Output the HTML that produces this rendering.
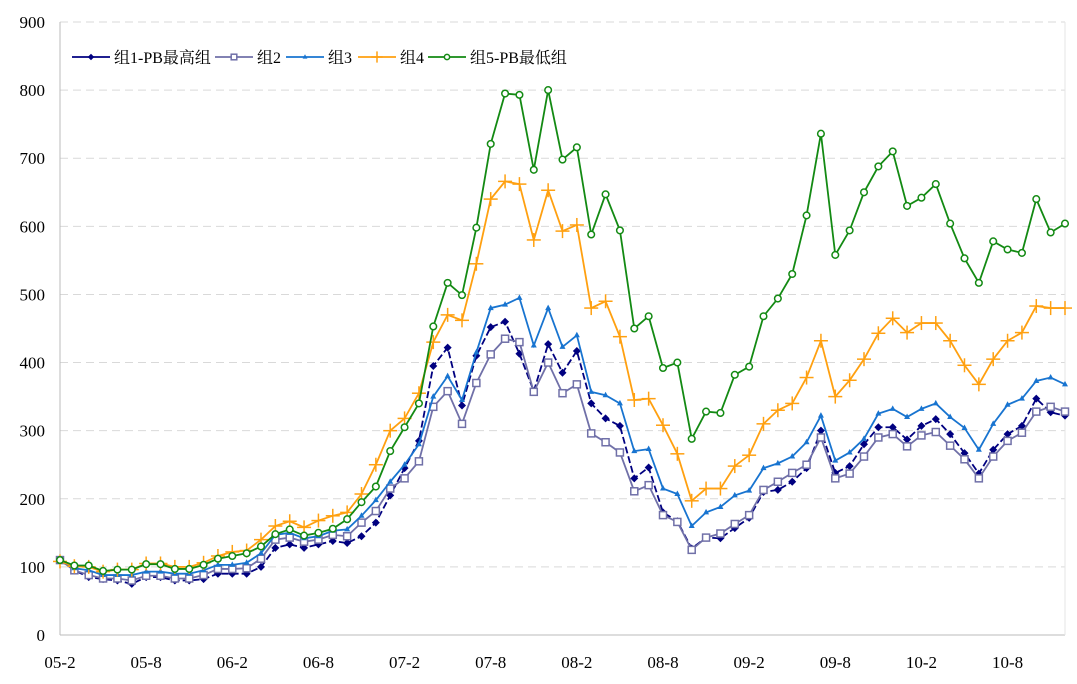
<!DOCTYPE html>
<html><head><meta charset="utf-8"><style>
body{margin:0;background:#fff}
svg{display:block;font-family:"Liberation Serif","Noto Serif CJK SC",serif}
</style></head><body>
<svg id="c" width="1077" height="684"></svg>
<script>
const xLabels=["05-2","05-8","06-2","06-8","07-2","07-8","08-2","08-8","09-2","09-8","10-2","10-8"];
const yTicks=[0,100,200,300,400,500,600,700,800,900];
const g1=[110,95,85,82,80,75,85,85,80,80,82,90,90,90,100,128,133,128,133,138,135,145,165,205,245,285,395,422,337,410,452,460,413,358,427,385,417,340,318,307,230,246,180,167,127,143,142,157,172,210,213,225,245,300,238,248,280,305,305,287,307,317,295,267,237,272,295,307,347,327,322];
const g2=[110,95,88,83,83,80,87,87,83,83,88,97,97,98,112,140,143,137,140,147,145,165,182,215,230,255,335,358,310,370,412,435,430,357,400,355,368,296,283,268,211,220,176,166,125,143,149,163,176,213,225,238,250,290,230,237,262,290,295,277,293,298,278,258,230,262,285,297,328,335,328];
const g3=[110,98,95,88,88,88,93,93,90,90,95,103,103,106,120,147,150,142,145,153,155,175,198,225,250,280,350,380,345,415,480,485,495,425,480,423,440,357,352,340,270,273,215,207,160,180,188,205,212,245,252,262,283,322,256,268,288,325,332,320,332,340,320,304,272,310,338,347,373,378,368];
const g4=[108,101,100,93,96,96,105,105,100,100,106,116,122,124,140,160,167,158,168,175,180,207,250,300,318,355,430,470,462,545,640,666,662,580,653,593,602,480,490,438,345,347,308,266,197,215,215,248,264,310,330,340,378,432,350,374,405,443,465,444,458,458,432,396,368,405,432,444,483,480,480];
const g5=[110,102,102,94,96,96,104,104,97,97,103,112,116,120,130,148,155,146,150,156,170,195,218,270,305,340,453,517,499,598,721,795,793,683,800,698,716,588,647,594,450,468,392,400,288,328,326,382,394,468,494,530,616,736,558,594,650,688,710,630,642,662,604,553,517,578,566,561,640,591,604];
const names=["组1-PB最高组","组2","组3","组4","组5-PB最低组"];
const NS="http://www.w3.org/2000/svg";
const svg=document.getElementById('c');
const X0=60,X1=1065,Y0=635,YT=22,N=g1.length;
const xs=i=>X0+i*(X1-X0)/(N-1);
const ys=v=>Y0-v*(Y0-YT)/900;
function mk(t,a,p){const e=document.createElementNS(NS,t);for(const k in a)e.setAttribute(k,a[k]);(p||svg).appendChild(e);return e;}
yTicks.forEach(v=>{
 if(v>0){const l=mk('line',{x1:X0,x2:X1,y1:ys(v),y2:ys(v),stroke:'#d9d9d9','stroke-dasharray':'8,5'});
 
 }
 const t=mk('text',{x:45,y:ys(v)+6,'text-anchor':'end','font-size':17});t.textContent=v;
 
 
});
const ax=mk('line',{x1:X0,x2:X0,y1:YT,y2:Y0,stroke:'#bbb'});


const bx=mk('line',{x1:X0,x2:X1,y1:Y0,y2:Y0,stroke:'#bbb'});


const rx=mk('line',{x1:X1,x2:X1,y1:YT,y2:Y0,stroke:'#e6e6e6'});


xLabels.forEach((s,k)=>{const t=mk('text',{x:xs(k*6),y:668,'text-anchor':'middle','font-size':17});t.textContent=s;
 
 });
const series=[
 {d:g1,c:'#000080',m:'diamond',dash:'7,3'},
 {d:g2,c:'#7070a8',m:'square',dash:''},
 {d:g3,c:'#1874d0',m:'tri',dash:''},
 {d:g4,c:'#ffa010',m:'plus',dash:''},
 {d:g5,c:'#138a13',m:'circle',dash:''}];
function marker(g,m,x,y,c,s){
 s=s||1;
 if(m==='diamond')mk('polygon',{points:`${x},${y-4*s} ${x+4*s},${y} ${x},${y+4*s} ${x-4*s},${y}`,fill:c},g);
 else if(m==='square')mk('rect',{x:x-3.5*s,y:y-3.5*s,width:7*s,height:7*s,fill:'#fff',stroke:c,'stroke-width':1.5},g);
 else if(m==='tri')mk('polygon',{points:`${x},${y-3.5*s} ${x+3*s},${y+2*s} ${x-3*s},${y+2*s}`,fill:c},g);
 else if(m==='plus'){mk('line',{x1:x-7*s,x2:x+7*s,y1:y,y2:y,stroke:c,'stroke-width':1.5},g);mk('line',{x1:x,x2:x,y1:y-7*s,y2:y+7*s,stroke:c,'stroke-width':1.5},g);}
 else mk('circle',{cx:x,cy:y,r:3.3*s,fill:'#fff',stroke:c,'stroke-width':1.5},g);
}
series.forEach((s,si)=>{
 const g=mk('g',{});
 
 
 const pts=s.d.map((v,i)=>xs(i)+','+ys(v)).join(' ');
 mk('polyline',{points:pts,fill:'none',stroke:s.c,'stroke-width':1.8,'stroke-dasharray':s.dash},g);
 s.d.forEach((v,i)=>marker(g,s.m,xs(i),ys(v),s.c));
});
const lx=[72,215,286,358,428];
series.forEach((s,si)=>{
 const g=mk('g',{});
 
 
 const x=lx[si],y=57;
 mk('line',{x1:x,x2:x+38,y1:y,y2:y,stroke:s.c,'stroke-width':1.8},g);
 marker(g,s.m,x+19,y,s.c,0.8);
 const t=mk('text',{x:x+42,y:y+6,'font-size':16},g);t.textContent=names[si];
});
</script>
</body></html>
